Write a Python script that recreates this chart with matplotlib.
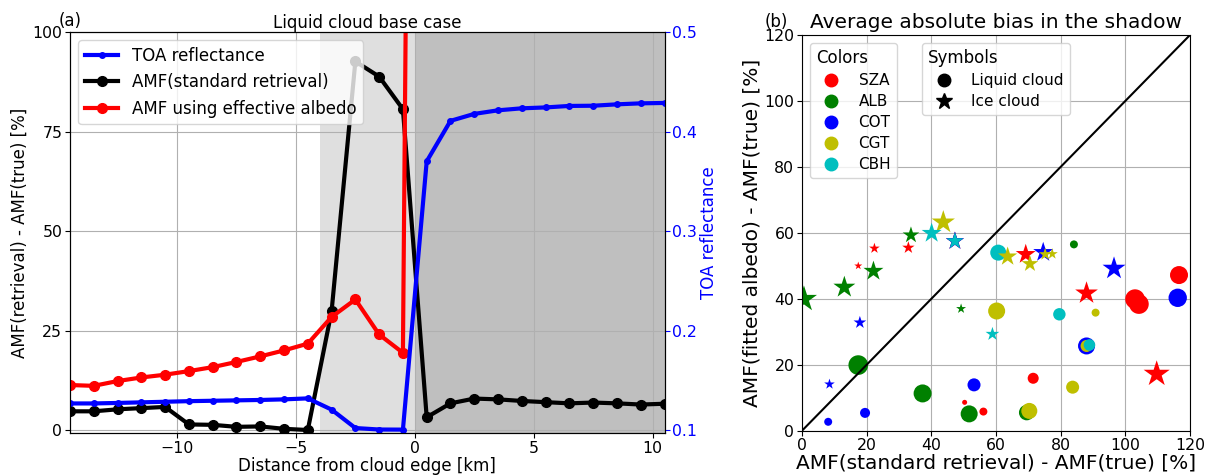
import matplotlib
matplotlib.use("Agg")
import matplotlib.pyplot as plt
from matplotlib.lines import Line2D

plt.rcParams['font.family'] = ['DejaVu Sans']

# ---------------- Panel (a) data ----------------
distance_km = [-14.5, -13.5, -12.5, -11.5, -10.5, -9.5, -8.5, -7.5, -6.5, -5.5,
               -4.5, -3.5, -2.5, -1.5, -0.5, 0.5, 1.5, 2.5, 3.5, 4.5,
               5.5, 6.5, 7.5, 8.5, 9.5, 10.5]
amf_standard = [4.7, 4.7, 5.2, 5.5, 5.8, 1.4, 1.3, 0.8, 0.9, 0.3,
                0.0, 29.8, 92.6, 88.8, 80.6, 3.2, 6.7, 7.9, 7.7, 7.3,
                7.0, 6.7, 6.9, 6.7, 6.4, 6.6]
amf_effective = [11.3, 11.1, 12.3, 13.2, 13.9, 14.8, 15.8, 17.1, 18.5, 20.0,
                 21.7, 28.4, 32.8, 24.0, 19.4, 730, 720, 715, 712, 710,
                 708, 706, 705, 704, 703, 702]
toa_reflectance = [0.1267, 0.1267, 0.1272, 0.1278, 0.1284, 0.1290, 0.1294, 0.1298, 0.1302, 0.1308,
                   0.1318, 0.1205, 0.1020, 0.1005, 0.1004, 0.370, 0.4107, 0.4177, 0.4213, 0.4233,
                   0.4242, 0.4257, 0.4259, 0.4273, 0.4283, 0.4287]
left_yticks = [0, 25, 50, 75, 100]
right_yticks = [0.1, 0.2, 0.3, 0.4, 0.5]
shadow_span = [-4.0, 0.0]
cloud_span = [0.0, 10.5]

# ---------------- Panel (b) data ----------------
colors_names = ['SZA', 'ALB', 'COT', 'CGT', 'CBH']
colors_codes = ['r', 'g', 'b', 'y', 'c']

# liquid cloud (circles): x, y, size
liq_x = {
    'SZA': [50.3, 56.1, 71.5, 116.6, 103.0, 104.2],
    'ALB': [84.1, 17.4, 37.3, 51.7, 69.5],
    'COT': [8.1, 19.5, 53.2, 88.0, 116.2],
    'CGT': [90.8, 83.7, 88.0, 60.2, 70.3],
    'CBH': [88.9, 79.6, 60.7],
}
liq_y = {
    'SZA': [8.6, 5.8, 15.9, 47.2, 39.9, 38.4],
    'ALB': [56.5, 19.9, 11.3, 5.1, 5.5],
    'COT': [2.7, 5.4, 13.9, 25.7, 40.3],
    'CGT': [35.8, 13.2, 25.7, 36.3, 6.0],
    'CBH': [26.0, 35.3, 54.0],
}
liq_s = {
    'SZA': [13, 33, 63, 168, 200, 200],
    'ALB': [33, 200, 168, 150, 125],
    'COT': [33, 52, 88, 150, 175],
    'CGT': [33, 88, 75, 150, 133],
    'CBH': [70, 80, 133],
}
# ice cloud (stars)
ice_x = {
    'SZA': [17.4, 22.4, 32.9, 47.3, 69.2, 88.0, 109.7],
    'ALB': [49.2, 33.7, 22.1, 13.1, 0.6],
    'COT': [8.5, 17.9, 47.3, 74.6, 96.5],
    'CGT': [77.4, 75.2, 70.5, 63.6, 43.7],
    'CBH': [58.9, 47.3, 40.1],
}
ice_y = {
    'SZA': [50.0, 55.3, 55.5, 57.5, 53.5, 41.7, 17.2],
    'ALB': [37.0, 59.3, 48.4, 43.5, 39.9],
    'COT': [14.1, 32.8, 57.5, 54.1, 49.2],
    'CGT': [53.6, 53.5, 50.6, 52.8, 63.2],
    'CBH': [29.3, 57.5, 59.9],
}
ice_s = {
    'SZA': [37, 65, 87, 185, 229, 295, 390],
    'ALB': [57, 159, 229, 276, 390],
    'COT': [64, 92, 190, 229, 303],
    'CGT': [70, 92, 159, 210, 310],
    'CBH': [108, 169, 229],
}

TICK_FS = 11.3

# ---------------- Figure ----------------
fig = plt.figure(figsize=(12.07, 4.75), dpi=100)

# Panel (a)
ax = fig.add_axes([70 / 1207, 42 / 475, 594.5 / 1207, 401 / 475])
ax.axvspan(shadow_span[0], shadow_span[1], color='gray', alpha=0.25, lw=0)
ax.axvspan(cloud_span[0], cloud_span[1], color='gray', alpha=0.5, lw=0)
l_std, = ax.plot(distance_km, amf_standard, 'k-o', lw=3, ms=7,
                 label='AMF(standard retrieval)')
l_eff, = ax.plot(distance_km, amf_effective, 'r-o', lw=3, ms=7,
                 label='AMF using effective albedo')
ax.set_xlim(-14.5, 10.5)
ax.set_ylim(-0.75, 100)
ax.set_yticks(left_yticks)
ax.grid(True)
ax.tick_params(labelsize=TICK_FS, pad=2)
ax.set_xlabel('Distance from cloud edge [km]', fontsize=12, labelpad=1)
ax.set_ylabel('AMF(retrieval) - AMF(true) [%]', fontsize=12, labelpad=3)
ax.set_title('Liquid cloud base case', fontsize=12, pad=3)
ax.text(0.0, 1.005, '(a)', transform=ax.transAxes, fontsize=12,
        ha='center', va='bottom')

ax2 = ax.twinx()
l_toa, = ax2.plot(distance_km, toa_reflectance, 'b-o', lw=3, ms=4,
                  label='TOA reflectance')
ax2.set_ylim(0.097, 0.5)
ax2.set_yticks(right_yticks)
ax2.tick_params(axis='y', colors='b', labelsize=TICK_FS, pad=2)
ax2.set_ylabel('TOA reflectance', color='b', fontsize=12, labelpad=2)
ax2.legend(handles=[l_toa, l_std, l_eff], loc='upper left', fontsize=12)

# Panel (b)
bx = fig.add_axes([802 / 1207, 44.3 / 475, 388 / 1207, 395.7 / 475])
bx.set_axisbelow(True)
bx.grid(True)
for name, col in zip(colors_names, colors_codes):
    bx.scatter(liq_x[name], liq_y[name], s=liq_s[name], c=col, marker='o',
               edgecolors='none')
for name, col in zip(colors_names, colors_codes):
    bx.scatter(ice_x[name], ice_y[name], s=ice_s[name], c=col, marker='*',
               edgecolors='none')
bx.plot([0, 120], [0, 120], 'k-', lw=1.5)
bx.set_xlim(0, 120)
bx.set_ylim(0, 120)
bx.set_xticks([0, 20, 40, 60, 80, 100, 120])
bx.set_yticks([0, 20, 40, 60, 80, 100, 120])
bx.tick_params(labelsize=TICK_FS, pad=2)
bx.set_xlabel('AMF(standard retrieval) - AMF(true) [%]', fontsize=14.5, labelpad=0)
bx.set_ylabel('AMF(fitted albedo) - AMF(true) [%]', fontsize=14.5, labelpad=2)
bx.set_title('Average absolute bias in the shadow', fontsize=14.5, pad=5)
bx.text(-0.036, 1.01, '(b)', transform=bx.transAxes, fontsize=12,
        ha='right', va='bottom')

color_handles = [Line2D([], [], marker='o', color=c, ls='none', ms=9, label=n)
                 for n, c in zip(colors_names, colors_codes)]
leg1 = bx.legend(handles=color_handles, title='Colors', loc='upper left',
                 fontsize=11, title_fontsize=12, labelspacing=0.4,
                 alignment='left')
bx.add_artist(leg1)
sym_handles = [Line2D([], [], marker='o', color='k', ls='none', ms=9, label='Liquid cloud'),
               Line2D([], [], marker='*', color='k', ls='none', ms=12, label='Ice cloud')]
bx.legend(handles=sym_handles, title='Symbols', loc='upper left',
          bbox_to_anchor=(0.29, 1.0), fontsize=11, title_fontsize=12,
          labelspacing=0.4, alignment='left')

fig.savefig('out.png', dpi=100)
